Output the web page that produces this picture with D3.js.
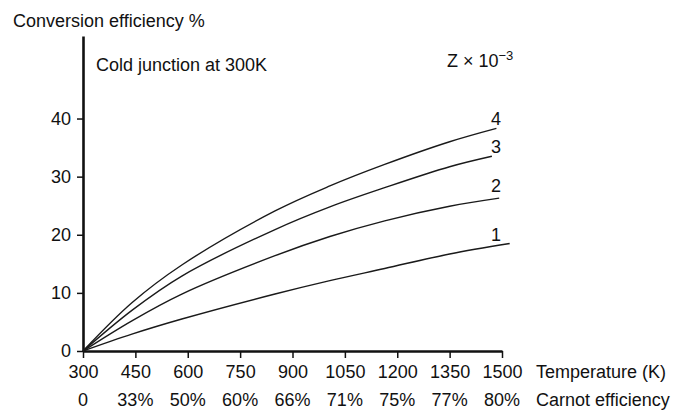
<!DOCTYPE html>
<html>
<head>
<meta charset="utf-8">
<script src="https://cdn.jsdelivr.net/npm/d3@7/dist/d3.min.js"></script>
<style>
  html, body { margin: 0; padding: 0; background: #fff; }
  svg { display: block; font-family: "Liberation Sans", Arial, Helvetica, sans-serif; }
  text { fill: #111; }
</style>
</head>
<body>
<svg id="chart" width="675" height="412"></svg>
<script>
// Temperature ticks (K) and matching Carnot efficiency labels
const temps = [300, 450, 600, 750, 900, 1050, 1200, 1350, 1500];
const carnotLabels = ["0", "33%", "50%", "60%", "66%", "71%", "75%", "77%", "80%"];
const effTicks = [0, 10, 20, 30, 40];

// Curve identifiers (Z x 10^-3)
const zValues = ["1", "2", "3", "4"];

// Hot-junction temperature (K) and conversion efficiency (%) for each Z
const curveZ1 = [[300, 0], [440, 2.9], [583, 5.5], [850, 9.8], [1007, 12.1], [1164, 14.2], [1350, 16.7], [1522, 18.5]];
const curveZ2 = [[300, 0], [440, 5.2], [583, 9.8], [850, 16.4], [1007, 19.7], [1164, 22.4], [1350, 24.9], [1492, 26.3]];
const curveZ3 = [[300, 0], [440, 7.0], [583, 12.9], [850, 20.9], [1007, 24.8], [1164, 28.1], [1350, 31.7], [1471, 33.5]];
const curveZ4 = [[300, 0], [440, 8.3], [583, 14.8], [850, 24.1], [1007, 28.4], [1164, 32.1], [1350, 36.0], [1484, 38.3]];
const curves = [curveZ1, curveZ2, curveZ3, curveZ4];

// Vertical positions of the curve number labels (efficiency %)
const labelEff = [18.9, 27.3, 34.1, 38.9];
const labelTemp = 1483;

const svg = d3.select("#chart");
const FONT = 18;

const x = d3.scaleLinear().domain([300, 1500]).range([83, 502]);
const y = d3.scaleLinear().domain([0, 54.2]).range([351, 36]);

// Y axis
const yAxis = svg.append("g")
  .attr("transform", `translate(${x(300)},0)`)
  .call(d3.axisLeft(y).tickValues(effTicks).tickSize(6).tickSizeOuter(0).tickPadding(6));
yAxis.select(".domain").attr("stroke", "#111").attr("stroke-width", 2.6);
yAxis.selectAll(".tick line").attr("stroke", "#111").attr("stroke-width", 1.5);
yAxis.selectAll(".tick text").attr("font-size", FONT).attr("font-family", null).style("fill", "#111");

// X axis (temperature)
const xAxis = svg.append("g")
  .attr("transform", `translate(0,${y(0)})`)
  .call(d3.axisBottom(x).tickValues(temps).tickFormat(d3.format("d")).tickSize(7).tickSizeOuter(0).tickPadding(7));
xAxis.select(".domain").attr("stroke", "#111").attr("stroke-width", 2.6);
xAxis.selectAll(".tick line").attr("stroke", "#111").attr("stroke-width", 1.5);
xAxis.selectAll(".tick text").attr("font-size", FONT).attr("font-family", null).style("fill", "#111");

// Second row: Carnot efficiency
svg.append("g").selectAll("text")
  .data(temps)
  .join("text")
  .attr("x", d => x(d))
  .attr("y", 406)
  .attr("text-anchor", "middle")
  .attr("font-size", FONT)
  .text((d, i) => carnotLabels[i]);

// Axis titles and notes
svg.append("text").attr("x", 13).attr("y", 27).attr("font-size", FONT).text("Conversion efficiency %");
svg.append("text").attr("x", 536).attr("y", 378).attr("font-size", FONT).text("Temperature (K)");
svg.append("text").attr("x", 536).attr("y", 406).attr("font-size", FONT).text("Carnot efficiency");
svg.append("text").attr("x", 96).attr("y", 71).attr("font-size", FONT).text("Cold junction at 300K");

const zt = svg.append("text").attr("x", 447).attr("y", 67).attr("font-size", FONT);
zt.append("tspan").text("Z \u00d7 10");
zt.append("tspan").attr("font-size", 13).attr("dy", -7).text("\u22123");

// Efficiency curves
const line = d3.line()
  .x(d => x(d[0]))
  .y(d => y(d[1]))
  .curve(d3.curveCatmullRom.alpha(0.5));

svg.append("g").selectAll("path")
  .data(curves)
  .join("path")
  .attr("d", line)
  .attr("fill", "none")
  .attr("stroke", "#1a1a1a")
  .attr("stroke-width", 1.4);

// Curve number labels
svg.append("g").selectAll("text")
  .data(zValues)
  .join("text")
  .attr("x", x(labelTemp))
  .attr("y", (d, i) => y(labelEff[i]))
  .attr("text-anchor", "middle")
  .attr("font-size", FONT)
  .text(d => d);
</script>
</body>
</html>
